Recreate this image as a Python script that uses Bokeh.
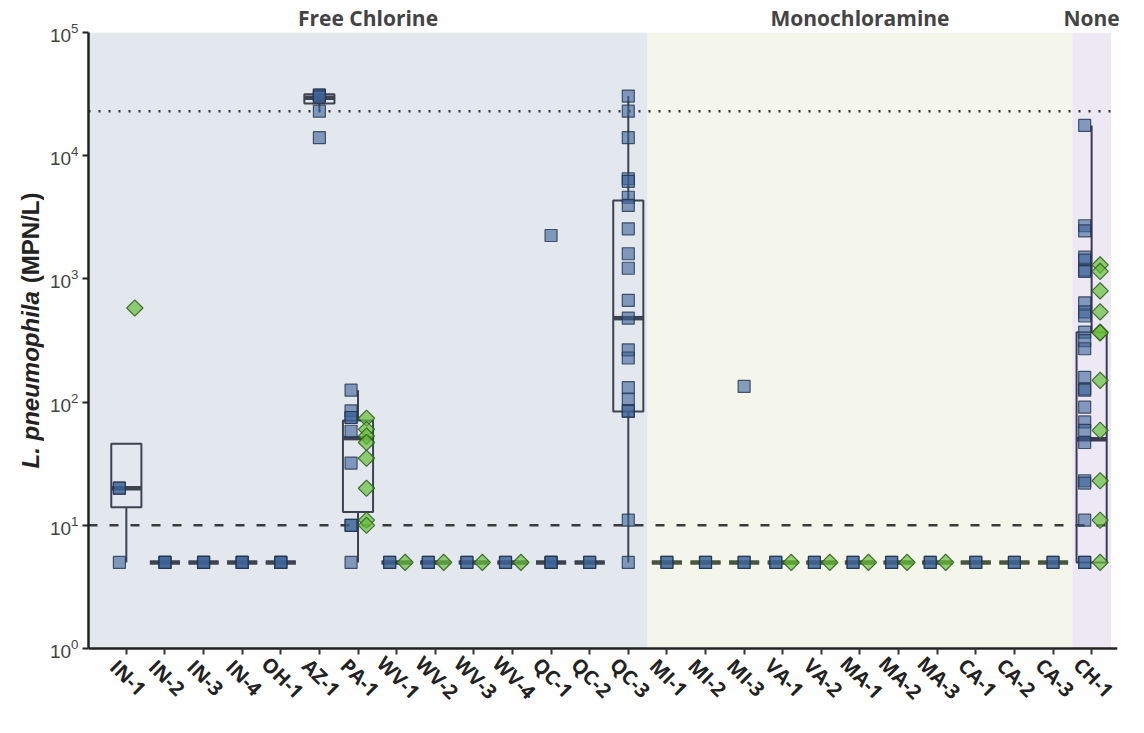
import numpy as np
from bokeh.plotting import figure
from bokeh.layouts import row
from bokeh.models import (Range1d, FixedTicker, Label, Span, BoxAnnotation, ColumnDataSource,
                          LinearAxis)
from bokeh.embed import file_html
from bokeh.resources import INLINE

# ---------------- data ----------------
categories = ["IN-1", "IN-2", "IN-3", "IN-4", "OH-1", "AZ-1", "PA-1", "WV-1", "WV-2", "WV-3",
              "WV-4", "QC-1", "QC-2", "QC-3", "MI-1", "MI-2", "MI-3", "VA-1", "VA-2", "MA-1",
              "MA-2", "MA-3", "CA-1", "CA-2", "CA-3", "CH-1"]
groups = ["Free Chlorine"] * 14 + ["Monochloramine"] * 11 + ["None"] * 1
group_names = ["Free Chlorine", "Monochloramine", "None"]

square_values = {
    "IN-1": [5, 20, 20], "IN-2": [5, 5, 5], "IN-3": [5, 5, 5], "IN-4": [5, 5, 5], "OH-1": [5, 5, 5],
    "AZ-1": [31000, 31000, 30000, 23000, 14000],
    "PA-1": [125, 85, 75, 75, 58, 32, 10, 10, 5],
    "WV-1": [5, 5], "WV-2": [5, 5], "WV-3": [5, 5], "WV-4": [5, 5],
    "QC-1": [5, 5, 5, 2250], "QC-2": [5, 5],
    "QC-3": [30500, 23000, 14000, 6500, 6200, 4600, 3950, 2550, 1600, 1220, 670, 480, 265,
             228, 131, 106, 85, 84, 11, 5],
    "MI-1": [5, 5], "MI-2": [5, 5], "MI-3": [5, 5, 134],
    "VA-1": [5, 5], "VA-2": [5, 5], "MA-1": [5, 5], "MA-2": [5, 5], "MA-3": [5, 5],
    "CA-1": [5, 5], "CA-2": [5, 5], "CA-3": [5, 5],
    "CH-1": [17600, 2700, 2450, 1500, 1420, 1180, 1150, 640, 540, 500, 370, 316, 271, 159,
             128, 125, 91, 69, 59, 47, 23, 22, 11, 5, 5],
}
diamond_values = {
    "IN-1": [580],
    "PA-1": [74, 60, 53, 47, 35, 20, 11, 10],
    "WV-1": [5], "WV-2": [5], "WV-3": [5], "WV-4": [5],
    "VA-1": [5], "VA-2": [5], "MA-1": [5], "MA-2": [5], "MA-3": [5],
    "CH-1": [1300, 1150, 800, 540, 370, 365, 150, 59, 23, 11, 5],
}
# box statistics (low whisker, q1, median, q3, high whisker)
box_low = [5, 5, 5, 5, 5, 23000, 5, 5, 5, 5, 5, 5, 5, 5, 5, 5, 5, 5, 5, 5, 5, 5, 5, 5, 5, 5]
box_q1 = [14, 5, 5, 5, 5, 26500, 12.8, 5, 5, 5, 5, 5, 5, 84, 5, 5, 5, 5, 5, 5, 5, 5, 5, 5, 5, 5]
box_med = [20, 5, 5, 5, 5, 29500, 51, 5, 5, 5, 5, 5, 5, 480, 5, 5, 5, 5, 5, 5, 5, 5, 5, 5, 5, 50]
box_q3 = [46, 5, 5, 5, 5, 31500, 71, 5, 5, 5, 5, 5, 5, 4330, 5, 5, 5, 5, 5, 5, 5, 5, 5, 5, 5, 369]
box_high = [46, 5, 5, 5, 5, 31500, 125, 5, 5, 5, 5, 5, 5, 30500, 5, 5, 5, 5, 5, 5, 5, 5, 5, 5, 5, 17600]

y_min, y_max = 1, 1e5
upper_reference = 23000
lower_reference = 10

# ---------------- styles ----------------
band_colors = {"Free Chlorine": "#e3e7ee", "Monochloramine": "#f4f6ec", "None": "#ece8f4"}
box_colors = {"Free Chlorine": "#3d4451", "Monochloramine": "#4a553d", "None": "#3d3a56"}
HALF = 0.39
SQ_DODGE = -0.18
DI_DODGE = 0.22
SIDE_W = 44
FRAME_W, PLOT_H = 1029, 616          # pixel height of the 1..1e5 decades
EXT = 66                             # extra frame below y=1 that holds the category labels
TOP, LEFT, RIGHT, BOTTOM = 30, 44, 20, 6
decades = np.log10(y_max / y_min)
y_start = y_min * 10 ** (-decades * EXT / PLOT_H)

xpos = list(range(len(categories)))
x_range = Range1d(-0.98, 25.67)

p = figure(frame_width=FRAME_W, frame_height=PLOT_H + EXT,
           x_range=x_range, y_range=Range1d(y_start, y_max),
           y_axis_type="log", output_backend="svg", toolbar_location=None,
           min_border_left=LEFT, min_border_right=RIGHT, min_border_top=TOP,
           min_border_bottom=BOTTOM,
           background_fill_color="white", border_fill_color="white", outline_line_color=None)
p.grid.visible = False

# background bands
centers = []
for g in group_names:
    idx = [i for i, gg in enumerate(groups) if gg == g]
    left = idx[0] - 0.5 if idx[0] > 0 else x_range.start
    right = idx[-1] + 0.5
    centers.append((left + right) / 2)
    p.add_layout(BoxAnnotation(left=left, right=right, bottom=y_min, fill_color=band_colors[g],
                               fill_alpha=1.0, line_color=None, level="underlay"))

# reference lines
p.add_layout(Span(location=upper_reference, dimension="width", line_color="#333333",
                  line_width=2.5, line_dash="2 8", level="underlay"))
p.add_layout(Span(location=lower_reference, dimension="width", line_color="#3a3a3a",
                  line_width=2.5, line_dash="9 12", level="underlay"))

# boxes
bcol = [box_colors[g] for g in groups]
bsrc = ColumnDataSource(dict(x=xpos, l=[x - HALF for x in xpos], r=[x + HALF for x in xpos],
                             lw=box_low, q1=box_q1, med=box_med, q3=box_q3, hw=box_high, c=bcol))
p.segment(x0="x", y0="q3", x1="x", y1="hw", source=bsrc, line_color="c", line_width=2)
p.segment(x0="x", y0="lw", x1="x", y1="q1", source=bsrc, line_color="c", line_width=2)
p.quad(left="l", right="r", bottom="q1", top="q3", source=bsrc, fill_color=None,
       line_color="c", line_width=2)
p.segment(x0="l", y0="med", x1="r", y1="med", source=bsrc, line_color="c", line_width=4.5)

# points
sx, sy, dx, dy = [], [], [], []
for i, c in enumerate(categories):
    has_d = c in diamond_values
    for v in square_values.get(c, []):
        sx.append(i + (SQ_DODGE if has_d else 0))
        sy.append(v)
    for v in diamond_values.get(c, []):
        dx.append(i + DI_DODGE)
        dy.append(v)

p.scatter(sx, sy, marker="square", size=12, fill_color="#3c6397", fill_alpha=0.6,
          line_color="#22334c", line_alpha=0.8, line_width=1.2)
p.scatter(dx, dy, marker="square", angle=np.pi / 4, size=11.5, fill_color="#67bf39", fill_alpha=0.7,
          line_color="#2d5a1c", line_alpha=0.85, line_width=1.2)

# y axis (drawn only over 1..1e5)
ya = p.left[0]
ya.bounds = (y_min, y_max)
ya.axis_line_width = 2.5
ya.axis_line_color = "#222222"
ya.major_tick_line_width = 2
ya.major_tick_line_color = "#222222"
ya.major_tick_out = 6
ya.major_tick_in = 0
ya.minor_tick_line_color = None
ya.major_label_standoff = 4
ya.major_label_text_font = "Liberation Sans"
ya.major_label_text_font_size = "19px"
ya.major_label_text_color = "#444444"

# category axis drawn at y = 1
xa = p.below[0]
xa.fixed_location = y_min
xa.ticker = FixedTicker(ticks=xpos)
xa.major_label_overrides = {i: "" for i in xpos}
xa.major_label_standoff = 0
xa.major_label_text_font_size = "0px"
xa.axis_line_width = 2.5
xa.axis_line_color = "#222222"
xa.major_tick_line_width = 2
xa.major_tick_line_color = "#333333"
xa.major_tick_out = 6
xa.major_tick_in = 0
xa.minor_tick_line_color = None
xa.minor_tick_in = 0
xa.minor_tick_out = 0

# group titles on an axis above the frame
top_axis = LinearAxis(ticker=FixedTicker(ticks=centers),
                      major_label_overrides={c: g for c, g in zip(centers, group_names)},
                      axis_line_color=None, major_tick_line_color=None,
                      major_tick_in=0, major_tick_out=0,
                      minor_tick_line_color=None, minor_tick_in=0, minor_tick_out=0,
                      major_label_standoff=1,
                      major_label_text_font="Open Sans", major_label_text_font_style="bold",
                      major_label_text_font_size="21px", major_label_text_color="#444444")
p.add_layout(top_axis, "above")

# rotated category labels under the axis
for i, c in enumerate(categories):
    p.add_layout(Label(x=i + 0.05, y=EXT - 29, x_units="data", y_units="screen", text=c,
                       angle=-np.pi / 4, text_align="center", text_baseline="middle",
                       text_font="Open Sans", text_font_style="bold", text_font_size="20px",
                       text_color="#222222"))

# y axis title panel (italic species name + bold unit)
main_h = TOP + PLOT_H + EXT + BOTTOM
side = figure(width=SIDE_W, height=main_h, x_range=Range1d(0, 1), y_range=Range1d(0, 1),
              x_axis_location=None, y_axis_location=None, output_backend="svg",
              toolbar_location=None, min_border=0, outline_line_color=None,
              background_fill_color="white", border_fill_color="white")
side.grid.visible = False
side.add_layout(Label(x=30, y=main_h - 474, x_units="screen", y_units="screen",
                      text="L. pneumophila", angle=np.pi / 2, text_align="left",
                      text_baseline="middle", text_font="Liberation Sans",
                      text_font_style="bold italic", text_font_size="24px", text_color="#222222"))
side.add_layout(Label(x=30, y=main_h - 198, x_units="screen", y_units="screen",
                      text="(MPN/L)", angle=np.pi / 2, text_align="right",
                      text_baseline="middle", text_font="Liberation Sans",
                      text_font_style="bold", text_font_size="24px", text_color="#222222"))

layout = row(side, p, spacing=0)
open("out.html", "w").write(file_html(layout, INLINE))
